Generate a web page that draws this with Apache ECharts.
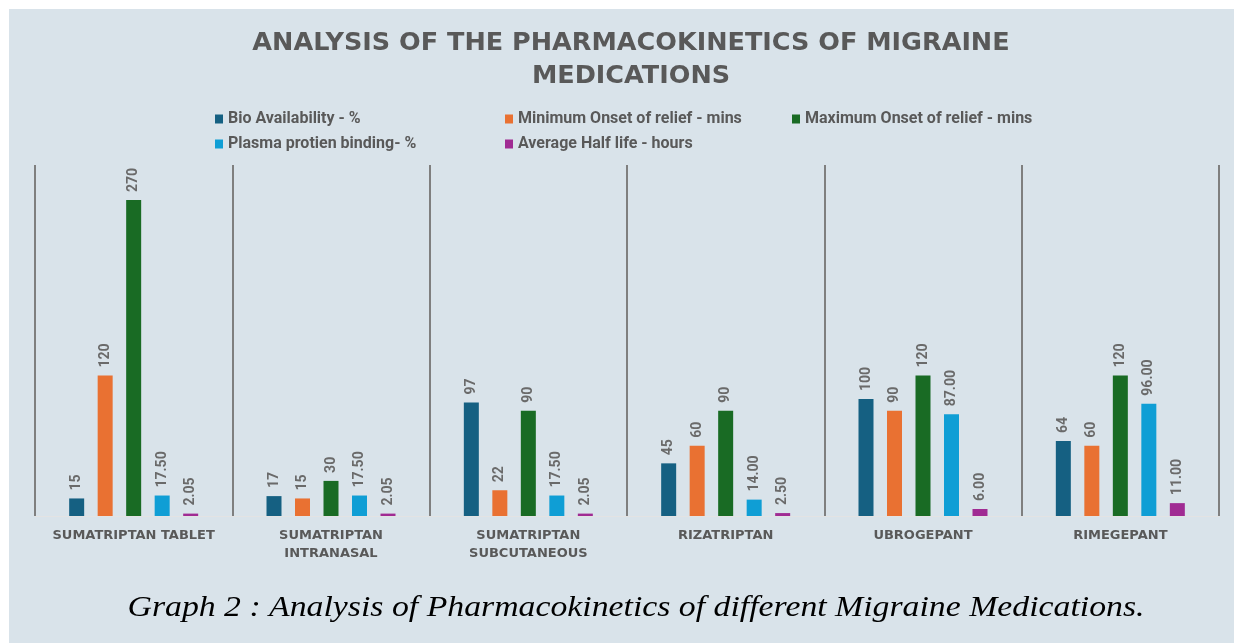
<!DOCTYPE html>
<html>
<head>
<meta charset="utf-8">
<script src="https://cdn.jsdelivr.net/npm/echarts@6/dist/echarts.min.js"></script>
<style>
html,body{margin:0;padding:0;background:#fff;}
#main{width:1234px;height:643px;}
</style>
</head>
<body>
<div id="main"></div>
<script>
const categories = ['SUMATRIPTAN TABLET', 'SUMATRIPTAN\nINTRANASAL', 'SUMATRIPTAN\nSUBCUTANEOUS', 'RIZATRIPTAN', 'UBROGEPANT', 'RIMEGEPANT'];
const seriesNames = ['Bio Availability - %', 'Minimum Onset of relief - mins', 'Maximum Onset of relief - mins', 'Plasma protien binding- %', 'Average Half life - hours'];
const bioAvailability = [15, 17, 97, 45, 100, 64];
const minOnset = [120, 15, 22, 60, 90, 60];
const maxOnset = [270, 30, 90, 90, 120, 120];
const plasmaBinding = [17.5, 17.5, 17.5, 14, 87, 96];
const halfLife = [2.05, 2.05, 2.05, 2.5, 6, 11];
const decimals = [0, 0, 0, 2, 2];
const colors = ['#156082', '#E97132', '#196B24', '#0F9ED5', '#A02B93'];
const seriesData = [bioAvailability, minOnset, maxOnset, plasmaBinding, halfLife];
const captionText = 'Graph 2 : Analysis of Pharmacokinetics of different Migraine Medications.';

const chart = echarts.init(document.getElementById('main'), null, {renderer: 'canvas'});

// caption width fitting
const mctx = document.createElement('canvas').getContext('2d');
mctx.font = 'italic 30px "Liberation Serif", serif';
const capW = mctx.measureText(captionText).width || 900;
const capScale = 1017 / capW;

const legendPos = [[210, 106], [500, 106], [787, 106], [210, 131], [500, 131]];
const legends = seriesNames.map((n, i) => ({
  data: [n],
  left: legendPos[i][0],
  top: legendPos[i][1],
  icon: 'rect',
  itemWidth: 8,
  itemHeight: 9,
  itemGap: 4,
  textStyle: {color: '#595959', fontFamily: 'Roboto', fontWeight: 'bold', fontSize: 16, padding: [0,0,0,0]}
}));

const option = {
  backgroundColor: '#ffffff',
  color: colors,
  graphic: [{
    type: 'rect', z: -10, silent: true,
    shape: {x: 9, y: 9, width: 1225, height: 640},
    style: {fill: '#d9e3ea'}
  }, {
    type: 'text', silent: true, z: 10,
    x: 636, y: 608,
    scaleX: capScale, scaleY: 1,
    style: {
      text: captionText,
      fontFamily: 'Liberation Serif',
      fontStyle: 'italic',
      fontSize: 30,
      fill: '#000',
      align: 'center',
      verticalAlign: 'middle'
    }
  }],
  title: [{
    text: 'ANALYSIS OF THE PHARMACOKINETICS OF MIGRAINE\nMEDICATIONS',
    left: 626, top: 22, textAlign: 'center',
    textStyle: {color: '#595959', fontFamily: 'DejaVu Sans', fontWeight: 'bold', fontSize: 25.5, lineHeight: 33}
  }],
  legend: legends,
  grid: {left: 35, right: 15, top: 165, bottom: 127, containLabel: false},
  xAxis: {
    type: 'category',
    data: categories,
    axisLine: {show: true, lineStyle: {color: '#e3e3e3', width: 1}},
    axisTick: {show: false},
    splitLine: {show: true, lineStyle: {color: '#7f7f7f', width: 2}},
    axisLabel: {
      color: '#595959', fontFamily: 'DejaVu Sans', fontWeight: 'bold', fontSize: 13,
      margin: 11, lineHeight: 18, interval: 0
    }
  },
  yAxis: {
    type: 'value', min: 0, max: 300,
    show: false,
    splitLine: {show: false}
  },
  series: seriesNames.map((n, i) => ({
    name: n,
    type: 'bar',
    data: seriesData[i],
    barWidth: 15,
    barGap: '90%',
    barCategoryGap: '34%',
    itemStyle: {color: colors[i]},
    label: {
      show: true,
      position: 'top',
      rotate: 90,
      align: 'left',
      verticalAlign: 'middle',
      distance: 8,
      color: '#6a6a6a',
      fontFamily: 'Roboto',
      fontWeight: 'bold',
      fontSize: 14,
      formatter: p => Number(p.value).toFixed(decimals[i])
    }
  }))
};
chart.setOption(option);
</script>
</body>
</html>
